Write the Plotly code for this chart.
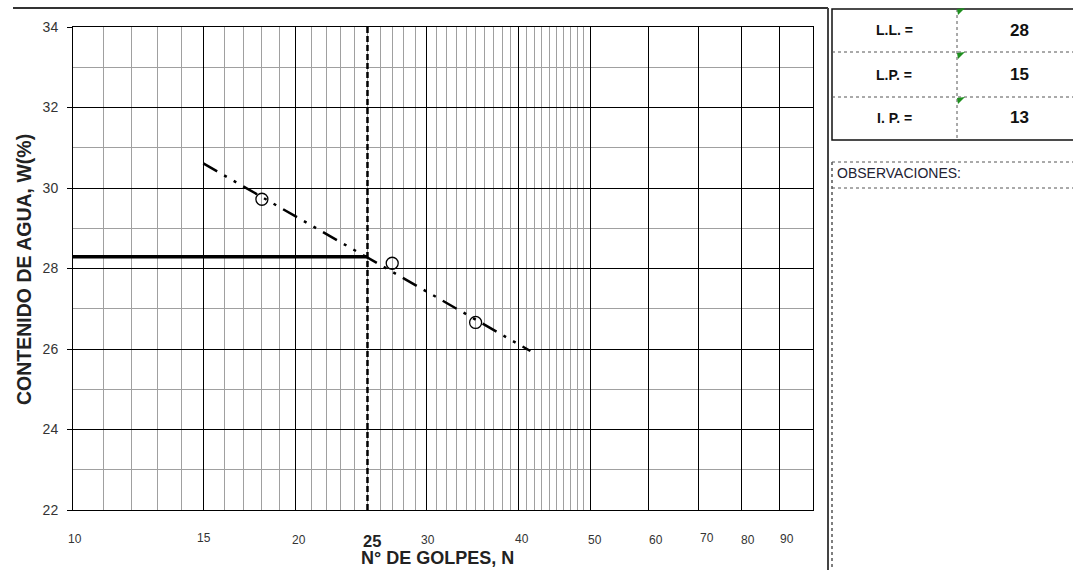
import math
import plotly.graph_objects as go

# ---------------- data ----------------
golpes = [18, 27, 35]                 # N° de golpes (ensayos)
humedad = [29.72, 28.13, 26.66]       # contenido de agua W(%)
trend_golpes = [15, 41.5]             # recta de fluidez (extremos)
trend_humedad = [30.61, 25.95]
ll_golpes = [10, 25]                  # linea horizontal del L.L.
ll_humedad = [28.29, 28.29]
n25_golpes = [25, 25]                 # vertical en N = 25
n25_humedad = [22, 34]

x_major = [10, 15, 20, 30, 40, 50, 60, 70, 80, 90]
x_minor = [v for v in range(11, 50) if v not in (15, 20, 30, 40)]
x_labels = ["10", "15", "20", "30", "40", "50", "60", "70", "80", "90"]
y_major = [22, 24, 26, 28, 30, 32, 34]
y_minor = [23, 25, 27, 29, 31, 33]

tabla_labels = ["L.L. =", "L.P. =", "I. P. ="]
tabla_values = ["28", "15", "13"]

# ---------------- layout helpers (pixel -> paper) ----------------
L, R, T, B = 73, 813, 27, 510
def px(x):
    return (x - L) / (R - L)
def py(y):
    return (B - y) / (B - T)

FONT = "Arial, Liberation Sans, sans-serif"

fig = go.Figure()

fig.add_trace(go.Scatter(x=ll_golpes, y=ll_humedad, mode="lines",
                         line=dict(color="#000", width=3.5), hoverinfo="skip"))
fig.add_trace(go.Scatter(x=n25_golpes, y=n25_humedad, mode="lines",
                         line=dict(color="#000", width=2.5, dash="6px,3px"), hoverinfo="skip"))
fig.add_trace(go.Scatter(x=trend_golpes, y=trend_humedad, mode="lines",
                         line=dict(color="#000", width=2.5, dash="16px,8px,3px,8px,3px,8px"),
                         hoverinfo="skip"))
fig.add_trace(go.Scatter(x=golpes, y=humedad, mode="markers",
                         marker=dict(symbol="circle-open", size=12,
                                     line=dict(color="#000", width=1.3), color="#000")))

fig.update_xaxes(type="log", range=[1, 2], tickvals=x_major, showticklabels=False,
                 showgrid=True, gridcolor="#000", gridwidth=1,
                 showline=True, linecolor="#000", linewidth=1, mirror=True, ticks="",
                 zeroline=False,
                 minor=dict(tickvals=x_minor + [25], showgrid=True, gridcolor="#a0a0a0",
                            gridwidth=1, ticks=""))
fig.update_yaxes(range=[22, 34], tickvals=y_major, ticks="outside", ticklen=5,
                 tickcolor="#000", showgrid=True, gridcolor="#000", gridwidth=1,
                 showline=True, linecolor="#000", linewidth=1, mirror=True,
                 zeroline=False, ticklabelstandoff=6,
                 tickfont=dict(family=FONT, size=14, color="#333"),
                 minor=dict(tickvals=y_minor, showgrid=True, gridcolor="#a0a0a0",
                            gridwidth=1, ticks=""))

annotations = []
def ann(**kw):
    base = dict(showarrow=False, xanchor="center", yanchor="middle")
    base.update(kw)
    annotations.append(base)

label_dx = [2, 1, 3, 2, 3, 5, 7, 9, 7, 8]
label_py = [539, 538, 540, 540, 539, 540, 540, 538, 540, 539]
for v, t, dx, yy in zip(x_major, x_labels, label_dx, label_py):
    ann(x=math.log10(v), xref="x", y=py(yy), yref="paper", text=t, xshift=dx,
        font=dict(family=FONT, size=12, color="#333"))
ann(x=math.log10(25), xref="x", y=py(540.5), yref="paper", text="<b>25</b>", xshift=5,
    font=dict(family=FONT, size=16.5, color="#222"))
ann(x=px(437), xref="paper", y=py(558), yref="paper", text="<b>N° DE GOLPES, N</b>",
    font=dict(family=FONT, size=18, color="#222"))
ann(x=px(24), xref="paper", y=py(270), yref="paper",
    text="<b>CONTENIDO DE AGUA, W(%)</b>", textangle=-90,
    font=dict(family=FONT, size=19.5, color="#222"))

row_y = [30, 75, 118]
for lab, val, yy in zip(tabla_labels, tabla_values, row_y):
    ann(x=px(894), xref="paper", y=py(yy), yref="paper", text="<b>" + lab + "</b>",
        font=dict(family=FONT, size=14, color="#111"))
    ann(x=px(1019), xref="paper", y=py(yy), yref="paper", text="<b>" + val + "</b>",
        font=dict(family=FONT, size=17, color="#111"))
ann(x=px(835), xref="paper", y=py(173), yref="paper", text="OBSERVACIONES:",
    xanchor="left", font=dict(family=FONT, size=14, color="#223"))

shapes = []
def line(x0, y0, x1, y1, color="#333", width=1, dash="solid"):
    shapes.append(dict(type="line", xref="paper", yref="paper",
                       x0=px(x0), y0=py(y0), x1=px(x1), y1=py(y1),
                       line=dict(color=color, width=width, dash=dash)))

# outer frame
line(13, 8, 828, 8, "#333", 2)
line(828, 8, 828, 575, "#444", 2)
# table
shapes.append(dict(type="rect", xref="paper", yref="paper",
                   x0=px(832), x1=px(1085), y0=py(140), y1=py(9),
                   line=dict(color="#111", width=1.5)))
line(832, 52, 1080, 52, "#555", 1, "dot")
line(832, 97, 1080, 97, "#555", 1, "dot")
line(957, 9, 957, 140, "#555", 1, "dot")
for yy in [9, 53, 98]:
    shapes.append(dict(type="path", xref="paper", yref="paper",
                       path="M {} {} L {} {} L {} {} Z".format(
                           px(957), py(yy), px(965), py(yy - 1), px(958), py(yy + 6)),
                       fillcolor="#1f8f1f", line=dict(width=0)))
# observaciones
line(832, 162, 1080, 162, "#555", 1, "dot")
line(832, 188, 1080, 188, "#555", 1, "dot")
line(832, 162, 832, 575, "#555", 1.5, "dot")

fig.update_layout(width=1073, height=570,
                  margin=dict(l=L, r=1073 - R, t=T, b=570 - B),
                  paper_bgcolor="white", plot_bgcolor="white", showlegend=False,
                  annotations=annotations, shapes=shapes,
                  font=dict(family=FONT))

fig.write_html("out.html")
